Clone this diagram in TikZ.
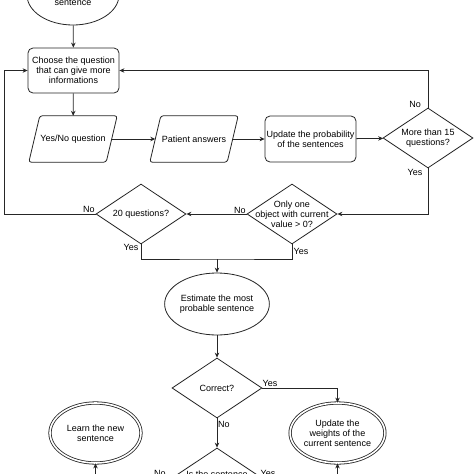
\documentclass[tikz,border=0pt]{standalone}
\usepackage{fontspec}
\setmainfont{Liberation Sans}
\usetikzlibrary{shapes.geometric,arrows.meta,calc}
\begin{document}
\begin{tikzpicture}[x=1pt,y=-1pt,
 font=\fontsize{9}{10}\selectfont,
 every node/.style={align=center, inner sep=0pt},
 line/.style={draw=black!85, line width=0.8pt},
 arr/.style={line, -{Stealth[length=5pt,width=4.5pt]}},
 rbox/.style={line, rounded corners=5pt, minimum width=91pt, minimum height=45pt},
 parabox/.style={minimum width=88pt, minimum height=46pt},
 paraline/.style={line, rounded corners=2.5pt},
 oval/.style={line, ellipse, minimum width=91pt, minimum height=60pt},
 dbloval/.style={oval, double, double distance=1.6pt},
 dia/.style={line, diamond, minimum width=90pt, minimum height=60pt},
 lbl/.style={font=\fontsize{9}{10}\selectfont}
]
\useasboundingbox (0,0) rectangle (474,474);
\clip (0,0) rectangle (474,474);
\fill[white] (0,0) rectangle (474,474);

\node[oval, minimum width=92pt] (start) at (73,-5) {};
\node (starttxt) at (73,3) {sentence};
\node[rbox] (choose) at (73.5,70.5) {Choose the question\\that can give more\\informations};
\node[parabox] (yesno) at (73,139) {Yes/No question};
\node[parabox] (patient) at (194,139) {Patient answers};
\foreach \p in {yesno,patient}{
  \draw[paraline] (\p.south west) -- ($(\p.north west)+(11,0)$) -- (\p.north east) -- ($(\p.south east)-(11,0)$) -- cycle;
}
\node[rbox, minimum height=46pt] (update) at (310.5,139) {Update the probability\\of the sentences};
\node[dia, label={center:More than 15\\questions?}] (m15) at (428,138) {};
\node[dia, label={center:Only one\\object with current\\value > 0?}] (only) at (292,214) {};
\node[dia, label={center:20 questions?}] (q20) at (141,214) {};
\node[oval, minimum height=62pt] (est) at (217,304) {Estimate the most\\probable sentence};
\node[dia, label={center:Correct?}] (corr) at (217,388) {};
\node[dbloval] (learn) at (95.5,433) {Learn the new\\sentence};
\node[dbloval] (weights) at (337.5,433) {Update the\\weights of the\\current sentence};
\node[dia] (isit) at (217,478) {};
\node (isittxt) at (217,474) {Is the sentence};

\coordinate (merge) at (217,259);

\draw[arr] (start) -- (choose);
\draw[arr] (choose) -- (yesno);
\draw[arr] ($(yesno.east)-(5.5,0)$) -- ($(patient.west)+(5.5,0)$);
\draw[arr] ($(patient.east)-(5.5,0)$) -- (update);
\draw[arr] (update) -- (m15);
\draw[arr] (m15.north) |- (choose.east);
\draw[arr] (m15.south) |- (only.east);
\draw[arr] (only.west) -- (q20.east);
\draw[arr] (q20.west) -- ++(-91,0) |- (choose.west);
\draw[line] (q20.south) |- (merge) -| (only.south);
\draw[arr] (merge) -- (est.north);
\draw[arr] (est) -- (corr);
\draw[arr] (corr.east) -| (weights.north);
\draw[arr] (corr.south) -- (isit.north);
\draw[arr] (isit.west) -| (learn.south);
\draw[arr] (isit.east) -| (weights.south);

\node[lbl] at (415,104) {No};
\node[lbl] at (415,172) {Yes};
\node[lbl] at (240,210) {No};
\node[lbl] at (89,209) {No};
\node[lbl] at (131,247) {Yes};
\node[lbl] at (301,251) {Yes};
\node[lbl] at (270,383) {Yes};
\node[lbl] at (224,424) {No};
\node[lbl] at (160,473) {No};
\node[lbl] at (268,473) {Yes};
\end{tikzpicture}
\end{document}
